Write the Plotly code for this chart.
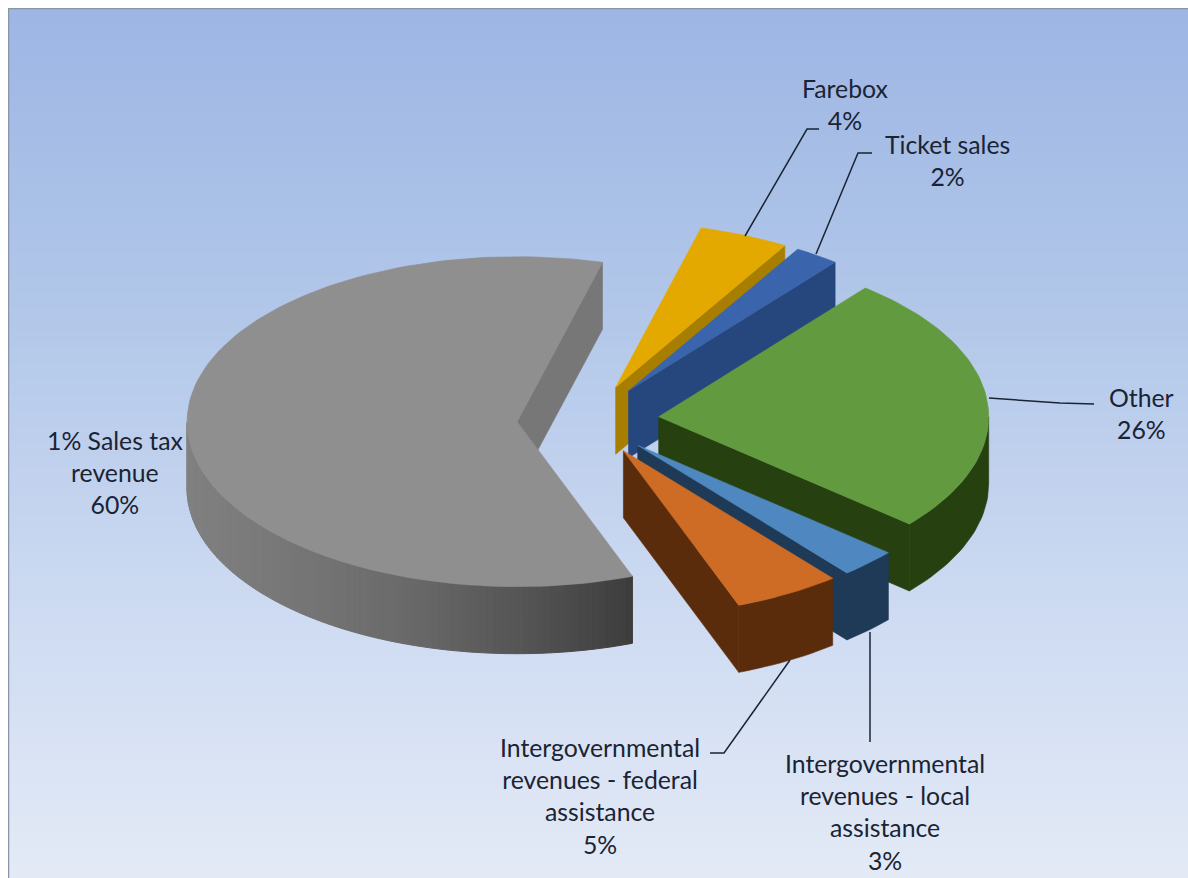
import math
import plotly.graph_objects as go

# ---- data (clockwise from the first slice) ----
categories = ["Farebox", "Ticket sales", "Other",
              "Intergovernmental<br>revenues - local<br>assistance",
              "Intergovernmental<br>revenues - federal<br>assistance",
              "1% Sales tax<br>revenue"]
values = [4.4, 2.2, 25.5, 2.8, 5.25, 59.85]
top_colors = ["#E3A900", "#3A64AC", "#629B3F", "#4F88C0", "#CE6B24", "#8F8F8F"]
end_wall_colors = ["#A87E00", "#25477D", "#27400F", "#1E3A57", "#5A2C0C", "#777777"]
outer_wall_colors = ["#A87E00", "#25477D", "#27400F", "#1E3A57", "#5A2C0C", None]
draw_order = [5, 0, 1, 2, 3, 4]

# ---- layout constants of the drawing (screen-pixel axis units) ----
W, H = 1188, 878
PAGE = 8
CX, CY, RX, RY = 588, 420, 330, 165
EXPLODE, DEPTH, START = 71, 67, 15
LABEL_POS = {0: (845, 104), 1: (947, 160), 2: (1141, 413),
             3: (885, 812), 4: (600, 796), 5: (115, 472)}
LEADERS = ["M745,236 L807,129 L819,129", "M816,254 L858,153 L872,153",
           "M989,398 L1060,403 L1094,404", "M870,632 L870,742",
           "M790,660 L724,753 L710,753"]


def pt(apex, deg, r=1.0, dz=0.0):
    a = math.radians(deg)
    return (apex[0] + RX * r * math.sin(a), apex[1] - RY * r * math.cos(a) + dz)


def arc(apex, a0, a1, dz=0.0):
    n = max(2, int(abs(a1 - a0) / 1.5) + 1)
    return [pt(apex, a0 + (a1 - a0) * i / (n - 1), 1.0, dz) for i in range(n)]


def poly(points, color, name, line=0.6):
    xs = [p[0] for p in points] + [points[0][0]]
    ys = [p[1] for p in points] + [points[0][1]]
    return go.Scatter(x=xs, y=ys, mode="lines", fill="toself", fillcolor=color,
                      line=dict(color=color, width=line), name=name,
                      hoverinfo="skip", showlegend=False)


def mix(stops, t):
    for (t0, c0), (t1, c1) in zip(stops, stops[1:]):
        if t <= t1:
            f = (t - t0) / (t1 - t0)
            return tuple(round(a + (b - a) * f) for a, b in zip(c0, c1))
    return stops[-1][1]


total = sum(values)
bounds = []
acc = START
for v in values:
    bounds.append((acc, acc + 360 * v / total))
    acc = bounds[-1][1]

fig = go.Figure()
GRAY_WALL = [(0.0, (128, 128, 128)), (0.25, (118, 118, 118)), (0.5, (105, 105, 105)),
             (0.75, (85, 85, 85)), (0.93, (68, 68, 68)), (1.0, (60, 60, 60))]

for i in draw_order:
    a0, a1 = bounds[i]
    mid = math.radians((a0 + a1) / 2)
    apex = (CX + EXPLODE * math.sin(mid), CY - EXPLODE * RY / RX * math.cos(mid))
    name = categories[i].replace("<br>", " ")
    # radial wall at the closing edge
    e = pt(apex, a1)
    fig.add_trace(poly([apex, e, (e[0], e[1] + DEPTH), (apex[0], apex[1] + DEPTH)],
                       end_wall_colors[i], name + " edge"))
    # outer rim, the part that faces the viewer
    lo, hi = max(a0, 90), min(a1, 270)
    if hi > lo:
        if outer_wall_colors[i] is not None:
            fig.add_trace(poly(arc(apex, lo, hi) + arc(apex, hi, lo, DEPTH),
                               outer_wall_colors[i], name + " rim"))
        else:
            xmin, xmax = pt(apex, hi)[0], pt(apex, lo)[0]
            steps = 90
            for s in range(steps):
                b0 = lo + (hi - lo) * s / steps
                b1 = lo + (hi - lo) * (s + 1) / steps
                t = (pt(apex, (b0 + b1) / 2)[0] - xmin) / (xmax - xmin)
                c = "rgb(%d,%d,%d)" % mix(GRAY_WALL, t)
                fig.add_trace(poly(arc(apex, b0, b1) + arc(apex, b1, b0, DEPTH),
                                   c, name + " rim", line=1.0))
    # top face
    fig.add_trace(poly([apex] + arc(apex, a0, a1), top_colors[i], name))

shapes = []
stops = [(0.0, (157, 182, 228)), (0.35, (178, 199, 233)),
         (0.7, (206, 219, 242)), (1.0, (227, 234, 246))]
bands = 110
for b in range(bands):
    y0 = PAGE + (H - PAGE) * b / bands
    y1 = PAGE + (H - PAGE) * (b + 1) / bands + 1
    shapes.append(dict(type="rect", layer="below", x0=PAGE, x1=W, y0=y0, y1=y1,
                       fillcolor="rgb(%d,%d,%d)" % mix(stops, b / (bands - 1)),
                       line=dict(width=0)))
shapes.append(dict(type="path", layer="above", path=f"M{PAGE+0.5},{H} L{PAGE+0.5},{PAGE+0.5} L{W},{PAGE+0.5}",
                   line=dict(color="#8C95A8", width=1.5)))
for p in LEADERS:
    shapes.append(dict(type="path", layer="above", path=p,
                       line=dict(color="#1A2434", width=1.5)))

annotations = []
for i, cat in enumerate(categories):
    x, y = LABEL_POS[i]
    annotations.append(dict(x=x, y=y, xref="x", yref="y", showarrow=False,
                            text=f"{cat}<br>{round(values[i])}%", align="center",
                            xanchor="center", yanchor="middle",
                            font=dict(family="Lato, Carlito, sans-serif", size=24.8,
                                      color="#1A2434")))

fig.update_layout(
    width=W - PAGE, height=H - PAGE,
    margin=dict(l=0, r=0, t=0, b=0),
    paper_bgcolor="white", plot_bgcolor="white",
    xaxis=dict(range=[PAGE, W], visible=False, fixedrange=True),
    yaxis=dict(range=[H, PAGE], visible=False, fixedrange=True),
    shapes=shapes, annotations=annotations, showlegend=False,
)
fig.write_html("out.html", config={"displayModeBar": False},
               post_script="document.documentElement.style.overflow='hidden';"
                           "document.body.style.margin='8px 0 0 8px';")
